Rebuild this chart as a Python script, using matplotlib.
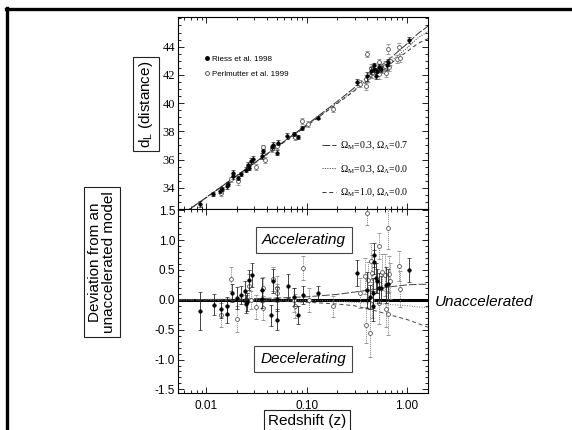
import matplotlib
matplotlib.use("Agg")
import matplotlib.pyplot as plt
from matplotlib.lines import Line2D
from matplotlib.ticker import MultipleLocator, NullFormatter, LogLocator

plt.rcParams['mathtext.default'] = 'regular'

# ---------------- data ----------------
# model curves
z_model = [0.005, 0.01, 0.02, 0.05, 0.1, 0.2, 0.3, 0.5, 0.7, 1.0, 1.3, 1.62]
mu_lam = [31.82, 33.33, 34.86, 36.90, 38.47, 40.10, 41.10, 42.40, 43.25, 44.20, 44.95, 45.45]
mu_open = [31.82, 33.33, 34.85, 36.87, 38.42, 40.00, 40.95, 42.20, 43.00, 43.90, 44.65, 45.07]
mu_eds = [31.82, 33.32, 34.84, 36.85, 38.39, 39.95, 40.88, 42.08, 42.85, 43.65, 44.25, 44.57]
dev_lam = [0.0, 0.005, 0.01, 0.03, 0.05, 0.09, 0.13, 0.18, 0.22, 0.25, 0.26, 0.26]
dev_open = [0.0, 0.0, 0.0, -0.005, -0.01, -0.02, -0.04, -0.06, -0.08, -0.10, -0.12, -0.13]
dev_eds = [0.0, -0.005, -0.01, -0.02, -0.04, -0.07, -0.10, -0.19, -0.26, -0.33, -0.40, -0.46]

# Top panel: Riess et al. 1998 (filled)
r_top_z = [0.0087, 0.0116, 0.0137, 0.0142, 0.016, 0.0165, 0.0182, 0.0185, 0.0207, 0.022,
           0.0249, 0.026, 0.0275, 0.0265, 0.029, 0.036, 0.0365, 0.0453, 0.046, 0.051,
           0.052, 0.064, 0.075, 0.082, 0.09, 0.131, 0.316, 0.40, 0.44, 0.467,
           0.47, 0.49, 0.50, 0.53, 0.55, 0.63, 0.65, 1.05]
r_top_mu = [32.86, 33.55, 33.81, 33.90, 34.10, 34.27, 34.81, 35.05, 34.70, 35.00,
            35.29, 35.64, 35.88, 35.40, 36.05, 36.26, 36.60, 36.86, 37.05, 36.50,
            37.21, 37.67, 37.79, 37.62, 38.26, 38.98, 41.48, 41.90, 42.31, 42.67,
            42.43, 41.95, 42.30, 42.55, 42.43, 42.67, 42.90, 44.45]
r_top_err = [0.2, 0.15, 0.15, 0.15, 0.15, 0.15, 0.15, 0.18, 0.15, 0.15,
             0.17, 0.17, 0.2, 0.15, 0.2, 0.2, 0.15, 0.18, 0.2, 0.18,
             0.2, 0.2, 0.15, 0.15, 0.15, 0.12, 0.22, 0.3, 0.25, 0.2,
             0.2, 0.25, 0.2, 0.25, 0.2, 0.3, 0.25, 0.2]

# Top panel: Perlmutter et al. 1999 (open)
p_top_z = [0.014, 0.0177, 0.0205, 0.026, 0.0309, 0.037, 0.038, 0.0455, 0.051, 0.075,
           0.077, 0.0905, 0.104, 0.181, 0.336, 0.387, 0.393, 0.40, 0.41, 0.44,
           0.45, 0.53, 0.52, 0.56, 0.60, 0.64, 0.62, 0.66, 0.68, 0.80, 0.84, 0.86]
p_top_mu = [33.60, 34.60, 34.45, 35.50, 35.48, 36.86, 35.95, 36.74, 36.98, 37.71,
            37.60, 38.74, 38.50, 39.57, 41.36, 41.71, 41.24, 43.50, 41.83, 42.50,
            42.10, 42.90, 42.05, 42.43, 42.60, 43.86, 42.15, 42.55, 43.00, 43.12, 43.98, 43.20]
p_top_err = [0.2, 0.2, 0.22, 0.2, 0.2, 0.2, 0.2, 0.2, 0.2, 0.2,
             0.2, 0.2, 0.2, 0.17, 0.25, 0.3, 0.3, 0.2, 0.3, 0.3,
             0.3, 0.22, 0.35, 0.3, 0.35, 0.35, 0.3, 0.3, 0.3, 0.3, 0.25, 0.3]

# Bottom panel: Riess (filled)
r_z = [0.0087, 0.0118, 0.0140, 0.0160, 0.0160, 0.0180, 0.0202, 0.0223, 0.0245, 0.0264,
       0.0250, 0.0255, 0.0285, 0.036, 0.036, 0.0437, 0.046, 0.051, 0.051, 0.0655,
       0.0748, 0.0825, 0.091, 0.131, 0.316, 0.40, 0.43, 0.467, 0.47, 0.46,
       0.455, 0.49, 0.50, 0.52, 0.55, 0.62, 0.65, 1.05]
r_dev = [-0.19, -0.08, -0.15, -0.10, -0.23, 0.11, 0.03, 0.08, 0.14, 0.33,
         -0.07, -0.03, 0.41, 0.17, 0.02, -0.26, 0.31, -0.33, 0.01, 0.23,
         0.05, -0.25, 0.08, 0.11, 0.45, 0.17, 0.05, 0.75, 0.63, 0.12,
         -0.11, 0.37, 0.31, 0.20, 0.20, 0.25, 0.26, 0.50]
r_err = [0.32, 0.18, 0.15, 0.15, 0.15, 0.15, 0.18, 0.15, 0.17, 0.17,
         0.15, 0.15, 0.20, 0.20, 0.15, 0.18, 0.20, 0.18, 0.20, 0.20,
         0.15, 0.15, 0.15, 0.12, 0.22, 0.30, 0.20, 0.20, 0.20, 0.25,
         0.25, 0.25, 0.20, 0.25, 0.20, 0.30, 0.25, 0.20]

# Bottom panel: Perlmutter (open)
p_z = [0.014, 0.0177, 0.0202, 0.0264, 0.0275, 0.0309, 0.0366, 0.037, 0.046, 0.0509,
       0.0509, 0.075, 0.077, 0.0922, 0.106, 0.181, 0.336, 0.38, 0.393, 0.40,
       0.41, 0.44, 0.45, 0.45, 0.53, 0.52, 0.56, 0.60, 0.64, 0.62,
       0.65, 0.66, 0.68, 0.84, 0.86, 0.43]
p_dev = [-0.26, 0.35, -0.32, 0.23, 0.00, -0.12, 0.19, -0.13, 0.35, 0.20,
         0.12, 0.00, -0.10, 0.53, -0.01, -0.11, 0.12, 0.40, -0.42, 1.45,
         0.33, 0.65, 0.45, 0.00, 0.90, -0.05, 0.46, 0.42, 1.20, -0.15,
         -0.24, 0.43, 0.31, 0.57, 0.18, -0.55]
p_err = [0.20, 0.20, 0.22, 0.20, 0.15, 0.20, 0.20, 0.20, 0.20, 0.20,
         0.15, 0.20, 0.20, 0.20, 0.20, 0.17, 0.25, 0.30, 0.30, 0.20,
         0.30, 0.30, 0.30, 0.30, 0.22, 0.35, 0.30, 0.35, 0.35, 0.30,
         0.35, 0.30, 0.30, 0.25, 0.30, 0.40]

top_yticks = [34, 36, 38, 40, 42, 44]
bot_yticks = [-1.5, -1.0, -0.5, 0.0, 0.5, 1.0, 1.5]
xticks = [0.01, 0.10, 1.00]
xtick_labels = ['0.01', '0.10', '1.00']

# ---------------- figure ----------------
W, H = 572, 430
fig = plt.figure(figsize=(W / 100, H / 100), dpi=100)

def fx(px):
    return px / W

def fy(py):
    return 1 - py / H

# frame lines (top & left)
fig.add_artist(Line2D([fx(6), 1.0], [fy(9), fy(9)], color='black', lw=2.4, transform=fig.transFigure))
fig.add_artist(Line2D([fx(7), fx(7)], [fy(8), 0.0], color='black', lw=2.4, transform=fig.transFigure))

ax1 = fig.add_axes([fx(178), fy(209), fx(250), (209 - 17) / H])
ax2 = fig.add_axes([fx(178), fy(393), fx(250), (393 - 209) / H])
ax2.set_zorder(2)
ax1.set_zorder(1)

XLIM = (0.0052, 1.62)
sans = 'Liberation Sans'
serif = 'Liberation Serif'

fill_kw = dict(fmt='o', ms=2.5, color='black', mfc='black', mec='black', mew=0.5,
               ecolor='#222222', elinewidth=0.6, capsize=1.5, capthick=0.6, zorder=4)
open_kw = dict(fmt='o', ms=2.8, color='#444444', mfc='white', mec='#555555', mew=0.6,
               ecolor='#8a8a8a', elinewidth=0.6, capsize=1.5, capthick=0.6, zorder=3)

# --- top panel
ax1.plot(z_model, mu_lam, color='#333333', lw=0.7, ls=(0, (8, 2)), zorder=2)
ax1.plot(z_model, mu_open, color='#333333', lw=0.7, ls=(0, (1, 1.5)), zorder=2)
ax1.plot(z_model, mu_eds, color='#333333', lw=0.7, ls=(0, (4, 3)), zorder=2)
e1 = ax1.errorbar(p_top_z, p_top_mu, yerr=p_top_err, **open_kw)
e1[2][0].set_linestyle((0, (1.5, 1.0)))
ax1.errorbar(r_top_z, r_top_mu, yerr=r_top_err, **fill_kw)

ax1.set_xscale('log')
ax1.set_xlim(*XLIM)
ax1.set_ylim(32.5, 46.1)
ax1.set_yticks(top_yticks)
ax1.set_yticklabels([str(t) for t in top_yticks], fontfamily=serif, fontsize=9)
ax1.yaxis.set_minor_locator(MultipleLocator(0.5))
ax1.set_xticks(xticks)
ax1.xaxis.set_minor_locator(LogLocator(base=10, subs=range(2, 10)))
ax1.xaxis.set_major_formatter(NullFormatter())
ax1.xaxis.set_minor_formatter(NullFormatter())
ax1.tick_params(which='both', direction='in', top=True, right=True, labelbottom=False,
                width=0.6, pad=2)
ax1.tick_params(which='major', length=4)
ax1.tick_params(which='minor', length=2)

leg_a = ax1.legend(handles=[
    Line2D([], [], marker='o', ls='none', ms=2.5, color='black'),
    Line2D([], [], marker='o', ls='none', ms=2.8, mfc='white', mec='#444444', mew=0.6)],
    labels=['Riess et al. 1998', 'Perlmutter et al. 1999'],
    loc='upper left', bbox_to_anchor=(0.085, 0.83), frameon=False,
    prop={'family': sans, 'size': 5.8}, handlelength=0.6, handletextpad=0.3,
    labelspacing=0.9, borderpad=0.2)
ax1.add_artist(leg_a)
ax1.legend(handles=[
    Line2D([], [], color='#333333', lw=0.7, ls=(0, (8, 2))),
    Line2D([], [], color='#333333', lw=0.7, ls=(0, (1, 1.5))),
    Line2D([], [], color='#333333', lw=0.7, ls=(0, (4, 3)))],
    labels=[r'$\Omega_M$=0.3, $\Omega_\Lambda$=0.7',
            r'$\Omega_M$=0.3, $\Omega_\Lambda$=0.0',
            r'$\Omega_M$=1.0, $\Omega_\Lambda$=0.0'],
    loc='upper left', bbox_to_anchor=(0.55, 0.395), frameon=False,
    prop={'family': serif, 'size': 7}, handlelength=1.4, handletextpad=0.4,
    labelspacing=1.1, borderpad=0.2)

# --- bottom panel
ax2.axhline(0.0, color='black', lw=2.2, zorder=2)
ax2.plot(z_model, dev_lam, color='#444444', lw=0.7, ls=(0, (8, 2)), zorder=2)
ax2.plot(z_model, dev_open, color='#777777', lw=0.7, ls=(0, (1, 1.5)), zorder=2)
ax2.plot(z_model, dev_eds, color='#444444', lw=0.7, ls=(0, (4, 3)), zorder=2)
e2 = ax2.errorbar(p_z, p_dev, yerr=p_err, **open_kw)
e2[2][0].set_linestyle((0, (1.5, 1.0)))
ax2.errorbar(r_z, r_dev, yerr=r_err, **fill_kw)

ax2.set_xscale('log')
ax2.set_xlim(*XLIM)
ax2.set_ylim(-1.56, 1.52)
ax2.set_yticks(bot_yticks)
ax2.set_yticklabels(['%.1f' % t for t in bot_yticks], fontfamily=sans, fontsize=8.5)
ax2.yaxis.set_minor_locator(MultipleLocator(0.1))
ax2.set_xticks(xticks)
ax2.set_xticklabels(xtick_labels, fontfamily=sans, fontsize=8.5)
ax2.xaxis.set_minor_locator(LogLocator(base=10, subs=range(2, 10)))
ax2.xaxis.set_minor_formatter(NullFormatter())
ax2.tick_params(which='both', direction='in', top=True, right=True, width=0.6, pad=2)
ax2.tick_params(axis='x', pad=5)
ax2.tick_params(which='major', length=4)
ax2.tick_params(which='minor', length=2)

for ax in (ax1, ax2):
    for s in ax.spines.values():
        s.set_linewidth(0.8)

# --- boxed labels
box = dict(boxstyle='square,pad=0.25', fc='white', ec='#222222', lw=0.8)
fig.text(fx(146), fy(104), r'd$_{L}$ (distance)', rotation=90, ha='center', va='center',
         fontsize=11, fontfamily=sans, bbox=box)
fig.text(fx(102), fy(262), 'Deviation from an\nunaccelerated model', rotation=90,
         ha='center', va='center', fontsize=11, fontfamily=sans, linespacing=1.0,
         multialignment='center', bbox=box)
fig.text(fx(307), fy(421), 'Redshift (z)', ha='center', va='center', fontsize=11,
         fontfamily=sans, bbox=box)
box2 = dict(boxstyle='square,pad=0.4', fc='white', ec='#444444', lw=0.8)
fig.text(fx(304), fy(240), 'Accelerating', ha='center', va='center', fontsize=11,
         fontfamily=sans, style='italic', bbox=box2, zorder=10)
fig.text(fx(303), fy(359), 'Decelerating', ha='center', va='center', fontsize=11,
         fontfamily=sans, style='italic', bbox=box2, zorder=10)
fig.text(fx(435), fy(302), 'Unaccelerated', ha='left', va='center', fontsize=11,
         fontfamily=sans, style='italic')

fig.savefig('out.png', dpi=100)
